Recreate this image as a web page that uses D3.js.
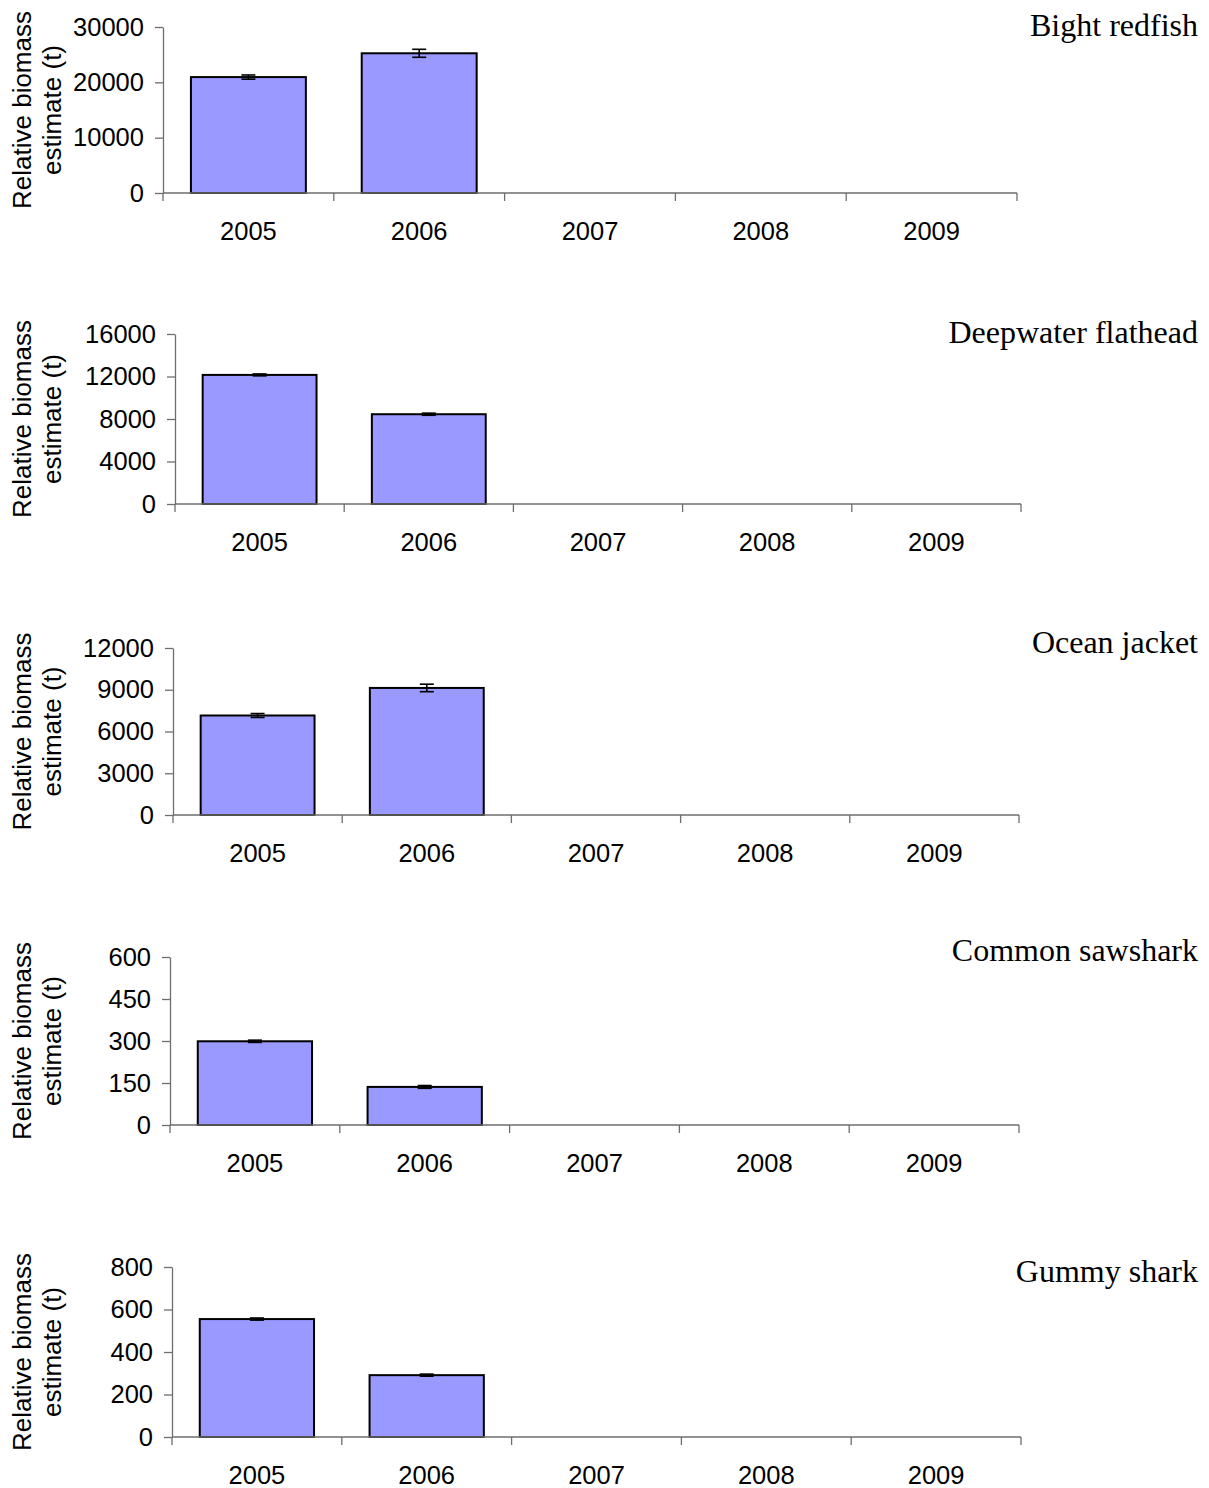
<!DOCTYPE html>
<html>
<head>
<meta charset="utf-8">
<script src="https://cdn.jsdelivr.net/npm/d3@7"></script>
<style>
  html, body { margin: 0; padding: 0; background: #fff; }
  svg { display: block; }
</style>
</head>
<body>
<svg id="chart" width="1209" height="1488"></svg>
<script>
// Survey years shared by every panel
const years = ["2005", "2006", "2007", "2008", "2009"];

// Species shown, one panel each, top to bottom
const species = ["Bight redfish", "Deepwater flathead", "Ocean jacket", "Common sawshark", "Gummy shark"];

// Relative biomass estimates (t) for the surveyed years
const biomassBightRedfish      = [20950, 25250];
const biomassDeepwaterFlathead = [12150, 8450];
const biomassOceanJacket       = [7150, 9130];
const biomassCommonSawshark    = [299, 136];
const biomassGummyShark        = [555, 291];

// Error half-widths (t)
const errorBightRedfish      = [380, 720];
const errorDeepwaterFlathead = [90, 100];
const errorOceanJacket       = [140, 270];
const errorCommonSawshark    = [4, 5];
const errorGummyShark        = [5, 5];

// Y-axis tick values per panel
const ticksBightRedfish      = [0, 10000, 20000, 30000];
const ticksDeepwaterFlathead = [0, 4000, 8000, 12000, 16000];
const ticksOceanJacket       = [0, 3000, 6000, 9000, 12000];
const ticksCommonSawshark    = [0, 150, 300, 450, 600];
const ticksGummyShark        = [0, 200, 400, 600, 800];

const values = [biomassBightRedfish, biomassDeepwaterFlathead, biomassOceanJacket, biomassCommonSawshark, biomassGummyShark];
const errors = [errorBightRedfish, errorDeepwaterFlathead, errorOceanJacket, errorCommonSawshark, errorGummyShark];
const ticks  = [ticksBightRedfish, ticksDeepwaterFlathead, ticksOceanJacket, ticksCommonSawshark, ticksGummyShark];

// Plot-area boxes for each panel
const frames = [
  { left: 163, right: 1017, top: 27,   bottom: 193,  titleY: 36 },
  { left: 175, right: 1021, top: 334,  bottom: 504,  titleY: 343 },
  { left: 173, right: 1019, top: 648,  bottom: 815,  titleY: 653 },
  { left: 170, right: 1019, top: 957,  bottom: 1125, titleY: 961 },
  { left: 172, right: 1021, top: 1267, bottom: 1437, titleY: 1282 }
];

const sans = "'Liberation Sans', Arial, sans-serif";
const serif = "'Liberation Serif', 'Times New Roman', serif";
const axisColor = "#6e6e6e";

const svg = d3.select("#chart");

species.forEach((name, i) => {
  const f = frames[i];
  const tv = ticks[i];
  const g = svg.append("g");

  const x = d3.scaleBand()
    .domain(years)
    .range([f.left, f.right])
    .paddingInner(0.327)
    .paddingOuter(0.1635);

  const y = d3.scaleLinear()
    .domain([0, tv[tv.length - 1]])
    .range([f.bottom, f.top]);

  const half = (x.step() - x.bandwidth()) / 2;

  // Bars
  const data = values[i].map((v, k) => ({ year: years[k], v, e: errors[i][k] }));
  g.selectAll("rect.bar").data(data).join("rect")
    .attr("class", "bar")
    .attr("x", d => x(d.year))
    .attr("y", d => y(d.v))
    .attr("width", x.bandwidth())
    .attr("height", d => y(0) - y(d.v))
    .attr("fill", "#9999ff")
    .attr("stroke", "#000")
    .attr("stroke-width", 2);

  // Error bars
  const eg = g.selectAll("g.err").data(data).join("g").attr("class", "err");
  eg.append("line")
    .attr("x1", d => x(d.year) + x.bandwidth() / 2)
    .attr("x2", d => x(d.year) + x.bandwidth() / 2)
    .attr("y1", d => y(d.v + d.e))
    .attr("y2", d => y(d.v - d.e))
    .attr("stroke", "#000").attr("stroke-width", 1.6);
  [1, -1].forEach(s => {
    eg.append("line")
      .attr("x1", d => x(d.year) + x.bandwidth() / 2 - 7)
      .attr("x2", d => x(d.year) + x.bandwidth() / 2 + 7)
      .attr("y1", d => y(d.v + s * d.e))
      .attr("y2", d => y(d.v + s * d.e))
      .attr("stroke", "#000").attr("stroke-width", 1.6);
  });

  // Y axis
  const yAxis = d3.axisLeft(y).tickValues(tv).tickSize(8).tickSizeOuter(0).tickPadding(11).tickFormat(d3.format("d"));
  const ya = g.append("g").attr("transform", `translate(${f.left},0)`).call(yAxis);
  ya.select(".domain").attr("stroke", axisColor).attr("stroke-width", 1.3);
  ya.selectAll(".tick line").attr("stroke", axisColor).attr("stroke-width", 1.3);
  ya.selectAll(".tick text").attr("font-family", sans).attr("font-size", 25.5).attr("fill", "#000");

  // X axis: baseline, boundary ticks, year labels
  g.append("line")
    .attr("x1", f.left).attr("x2", f.right)
    .attr("y1", y(0)).attr("y2", y(0))
    .attr("stroke", axisColor).attr("stroke-width", 1.3);
  const bounds = years.map(yr => x(yr) - half).concat([x(years[years.length - 1]) + x.bandwidth() + half]);
  g.selectAll("line.xt").data(bounds).join("line")
    .attr("class", "xt")
    .attr("x1", d => d).attr("x2", d => d)
    .attr("y1", y(0)).attr("y2", y(0) + 8)
    .attr("stroke", axisColor).attr("stroke-width", 1.3);
  g.selectAll("text.xl").data(years).join("text")
    .attr("class", "xl")
    .attr("x", d => x(d) + x.bandwidth() / 2)
    .attr("y", y(0) + 47)
    .attr("text-anchor", "middle")
    .attr("font-family", sans).attr("font-size", 25.5)
    .text(d => d);

  // Y axis title (two lines, rotated)
  const cy = (f.top + f.bottom) / 2;
  const yt = g.append("text")
    .attr("transform", `translate(0,${cy}) rotate(-90)`)
    .attr("text-anchor", "middle")
    .attr("font-family", sans).attr("font-size", 26);
  yt.append("tspan").attr("x", 0).attr("y", 31).text("Relative biomass");
  yt.append("tspan").attr("x", 0).attr("y", 61).text("estimate (t)");

  // Species name
  g.append("text")
    .attr("x", 1198).attr("y", f.titleY)
    .attr("text-anchor", "end")
    .attr("font-family", serif).attr("font-size", 32)
    .text(name);
});
</script>
</body>
</html>
